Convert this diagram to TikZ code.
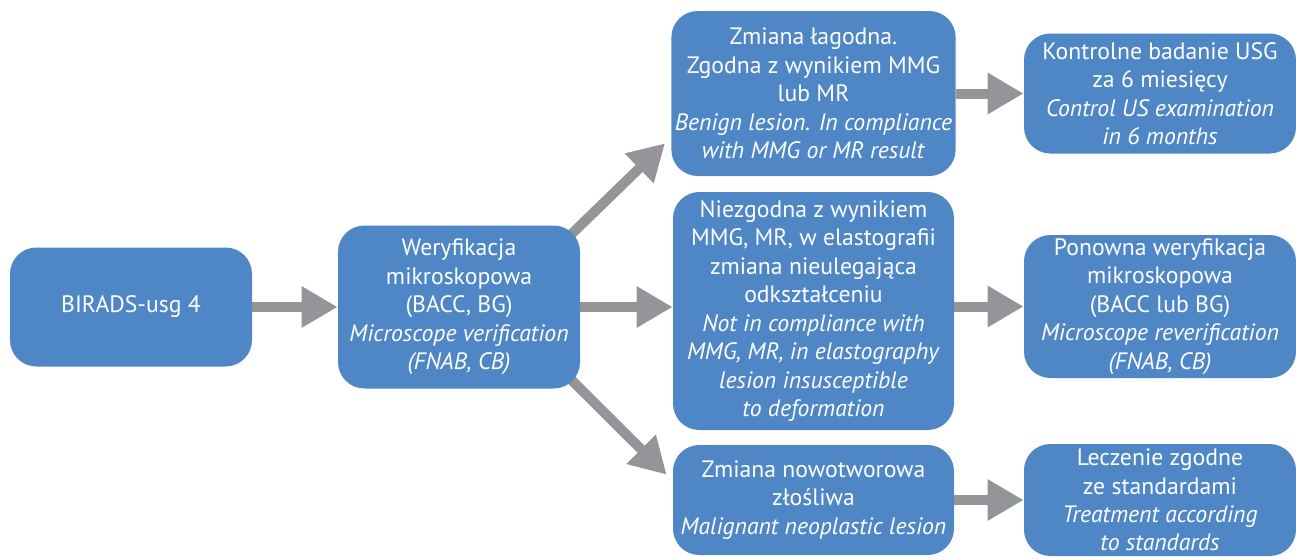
\documentclass[tikz,border=0pt]{standalone}
\usepackage{fontspec}
\setmainfont{PT Sans}
\usetikzlibrary{arrows.meta, backgrounds}

\definecolor{boxblue}{RGB}{79,135,198}
\definecolor{arrgray}{RGB}{147,149,152}

\tikzset{
    box/.style={rectangle, rounded corners=15, fill=boxblue, text=white, align=center,
        inner sep=2pt, font=\fontsize{13.5}{16.2}\selectfont},
    arr/.style={draw=arrgray, line width=0.2cm, -{Triangle[length=0.72cm, width=0.78cm]}}
}

\begin{document}
\begin{tikzpicture}[x=0.02cm, y=-0.02cm]

    \useasboundingbox (0,0) rectangle (1296,559);

    \node[box, minimum width=242*0.02cm, minimum height=119*0.02cm] (birads) at (131,307) {BIRADS-usg 4};
    \node[box, minimum width=242*0.02cm, minimum height=163*0.02cm] (weryf) at (459,307)
        {Weryfikacja\\ mikroskopowa\\ (BACC, BG)\\ \textit{Microscope verification}\\ \textit{(FNAB, CB)}};
    \node[box, minimum width=281*0.02cm, minimum height=165*0.02cm] (benign) at (813.5,93.5)
        {Zmiana łagodna.\\ Zgodna z wynikiem MMG\\ lub MR\\ \textit{Benign lesion. In compliance}\\ \textit{with MMG or MR result}};
    \node[box, minimum width=281*0.02cm, minimum height=238*0.02cm] (notcomp) at (813.5,311)
        {Niezgodna z wynikiem\\ MMG, MR, w elastografii\\ zmiana nieulegająca\\ odkształceniu\\ \textit{Not in compliance with}\\ \textit{MMG, MR, in elastography}\\ \textit{lesion insusceptible}\\ \textit{to deformation}};
    \node[box, minimum width=281*0.02cm, minimum height=110*0.02cm] (malig) at (813.5,500)
        {Zmiana nowotworowa\\ złośliwa\\ \textit{Malignant neoplastic lesion}};
    \node[box, minimum width=272*0.02cm, minimum height=120*0.02cm] (control) at (1160,93.5)
        {Kontrolne badanie USG\\ za 6 miesięcy\\ \textit{Control US examination}\\ \textit{in 6 months}};
    \node[box, minimum width=272*0.02cm, minimum height=143*0.02cm] (reverif) at (1160,306.5)
        {Ponowna weryfikacja\\ mikroskopowa\\ (BACC lub BG)\\ \textit{Microscope reverification}\\ \textit{(FNAB, CB)}};
    \node[box, minimum width=272*0.02cm, minimum height=112*0.02cm] (treat) at (1160,500)
        {Leczenie zgodne\\ ze standardami\\ \textit{Treatment according}\\ \textit{to standards}};

    \coordinate (upstart) at ([shift={(-10,10)}]weryf.north east);
    \coordinate (uptip) at ([shift={(-6,-33)}]benign.south west);
    \coordinate (downstart) at ([shift={(-10,-10)}]weryf.south east);
    \coordinate (downtip) at ([shift={(-6,30)}]malig.north west);

    \begin{scope}[on background layer]
    \draw[arr] (birads) -- (weryf);
    \draw[arr] (upstart) -- (uptip);
    \draw[arr] (weryf) -- (notcomp.west |- weryf);
    \draw[arr] (downstart) -- (downtip);
    \draw[arr] (benign) -- (control);
    \draw[arr] (notcomp.east |- reverif) -- (reverif);
    \draw[arr] (malig) -- (treat);
    \end{scope}

\end{tikzpicture}
\end{document}
